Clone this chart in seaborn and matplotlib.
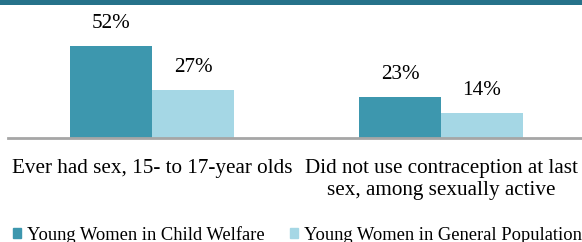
import pandas as pd
import seaborn as sns
import matplotlib.pyplot as plt
from matplotlib.patches import Rectangle

# Datos del gráfico
categorias = ["Ever had sex, 15- to 17-year olds",
              "Did not use contraception at last\nsex, among sexually active"]
grupos = ["Young Women in Child Welfare", "Young Women in General Population"]
bienestar_infantil = [52, 23]
poblacion_general = [27, 14]

colores = ["#3d97ae", "#a5d7e5"]

df = pd.DataFrame({
    "Categoria": categorias * 2,
    "Grupo": [grupos[0]] * 2 + [grupos[1]] * 2,
    "Valor": bienestar_infantil + poblacion_general,
})

sns.set_style("white")
plt.rcParams["font.family"] = ["Liberation Serif", "DejaVu Serif"]
plt.rcParams["text.color"] = "black"
plt.rcParams["xtick.color"] = "black"

W, H = 582, 242
fig = plt.figure(figsize=(W / 100, H / 100), dpi=100)
ax = fig.add_axes([7.5 / W, (H - 138) / H, 1 - 7.5 / W, 133 / H])

sns.barplot(data=df, x="Categoria", y="Valor", hue="Grupo", palette=colores,
            width=0.567, ax=ax, legend=False, saturation=1, linewidth=0)

ax.set_xlim(-0.5, 1.488)
ax.set_ylim(0, 75.2)
ax.set_xlabel("")
ax.set_ylabel("")
ax.set_yticks([])
ax.tick_params(axis="x", length=0, pad=15, labelsize=15.2, labelcolor="black")
for s in ["top", "right", "left"]:
    ax.spines[s].set_visible(False)
ax.spines["bottom"].set_color("#a6a6a6")
ax.spines["bottom"].set_linewidth(2)

for cont in ax.containers:
    for barra in cont:
        h = barra.get_height()
        ax.annotate(f"{h:.0f}%", (barra.get_x() + barra.get_width() / 2, h),
                    xytext=(0, 16.5), textcoords="offset points",
                    ha="center", va="center", fontsize=15.2, color="black")

# Banda superior
fig.add_artist(Rectangle((0, 1 - 5 / H), 1, 5 / H, transform=fig.transFigure,
                         color="#26728a", lw=0))

handles = [Rectangle((0, 0), 1, 1, color=c) for c in colores]
leg = fig.legend(handles, grupos, loc="center left", bbox_to_anchor=(0.0218, 0.03),
                 ncol=2, frameon=False, fontsize=13.3, handlelength=0.45,
                 handleheight=0.45, handletextpad=0.3, columnspacing=1.4,
                 borderaxespad=0, borderpad=0)
for t in leg.get_texts():
    t.set_color("black")

fig.savefig("out.png", dpi=100)
